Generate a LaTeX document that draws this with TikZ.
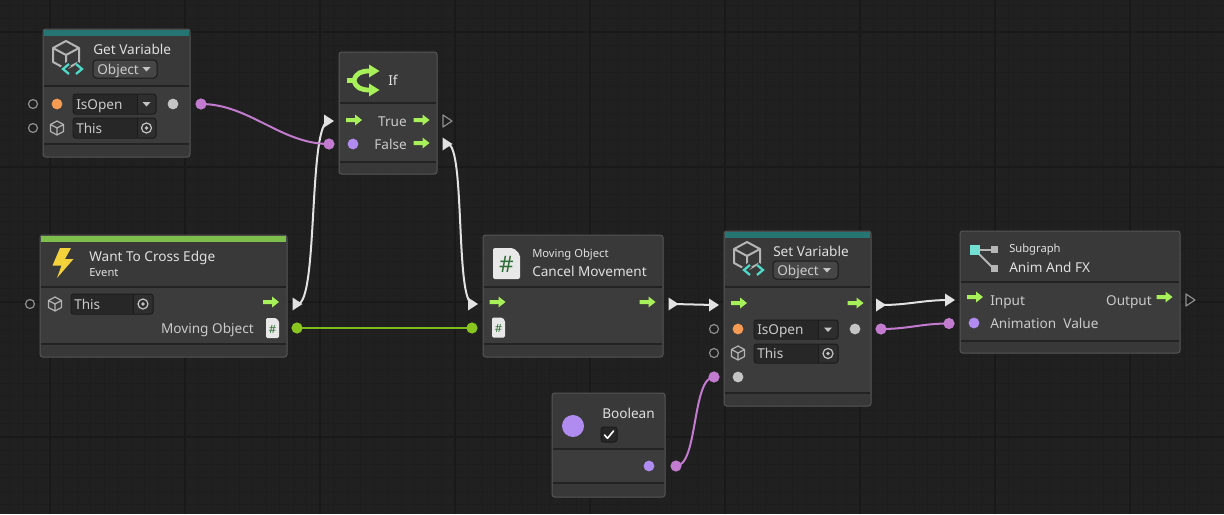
\documentclass[tikz,border=0pt]{standalone}
\usepackage{fontspec}
\setmainfont{Noto Sans}
\usetikzlibrary{calc}
\definecolor{bg}{HTML}{202020}
\definecolor{gridmaj}{HTML}{191919}
\definecolor{gridmin}{HTML}{1D1D1D}
\definecolor{hdr}{HTML}{393939}
\definecolor{bodyc}{HTML}{3C3C3C}
\definecolor{footc}{HTML}{383838}
\definecolor{divc}{HTML}{232323}
\definecolor{bord}{HTML}{565656}
\definecolor{tealc}{HTML}{277572}
\definecolor{evgreen}{HTML}{7DBE4C}
\definecolor{flow}{HTML}{A8F05A}
\definecolor{txt}{HTML}{CACACA}
\definecolor{ttlc}{HTML}{E0E0E0}
\definecolor{purp}{HTML}{C27BCF}
\definecolor{lav}{HTML}{B08CF0}
\definecolor{orng}{HTML}{F59A52}
\definecolor{greyd}{HTML}{C4C4C4}
\definecolor{hollowc}{HTML}{8E8E8E}
\definecolor{fieldc}{HTML}{2E2E2E}
\definecolor{fieldl}{HTML}{272727}
\definecolor{fieldb}{HTML}{1B1B1B}
\definecolor{ddc}{HTML}{464646}
\definecolor{wire}{HTML}{E2E2E2}
\definecolor{gwire}{HTML}{7CBB18}
\definecolor{gdot}{HTML}{8AC41E}
\definecolor{cubec}{HTML}{B5B5B5}
\definecolor{cyanc}{HTML}{4FD8C8}
\definecolor{boltc}{HTML}{F4D23C}
\definecolor{paper}{HTML}{E8E8E8}
\definecolor{hashc}{HTML}{2E6E36}
\newcommand\ubox[7]{%
  \path[draw=bord, fill=footc, line width=0.75pt, rounded corners=2pt] (#2,#3) rectangle (#4,#5);
  \fill[hdr] (#2+0.6,#3+0.6) rectangle (#4-0.6,#6);
  \fill[bodyc] (#2+0.6,#6) rectangle (#4-0.6,#7);
  \draw[divc, line width=1.5pt] (#2+0.6,#6) -- (#4-0.6,#6);
  \draw[divc, line width=1.5pt] (#2+0.6,#7) -- (#4-0.6,#7);
  \node[inner sep=0pt] (#1) at ({(#2+#4)/2},{(#3+#5)/2}) {};
}
% field: name, x1, y1, x2, y2, divider x
\newcommand\ufield[6]{%
  \path[draw=fieldb, fill=fieldc, line width=0.75pt, rounded corners=2pt] (#2,#3) rectangle (#4,#5);
  \fill[fieldl] (#2+0.6,#3+0.6) rectangle (#6,#5-0.6);
  \draw[fieldb, line width=0.75pt] (#6,#3) -- (#6,#5);
  \node[inner sep=0pt] (#1) at ({(#2+#4)/2},{(#3+#5)/2}) {};
}
\newcommand\udrop[5]{%
  \path[draw=fieldb, fill=ddc, line width=0.75pt, rounded corners=2.5pt] (#2,#3) rectangle (#4,#5);
  \node[inner sep=0pt] (#1) at ({(#2+#4)/2},{(#3+#5)/2}) {};
}
\begin{document}
\begin{tikzpicture}[x=0.75pt,y=-0.75pt,
  lbl/.style={text=txt, font=\fontsize{10.2}{12}\selectfont, inner sep=0pt, anchor=base west},
  lblr/.style={lbl, anchor=base east},
  ttl/.style={lbl, text=ttlc},
  sml/.style={lbl, text=ttlc, font=\fontsize{8.4}{10}\selectfont},
  wirew/.style={draw=wire, line width=1.5pt},
  wirep/.style={draw=purp, line width=1.5pt},
  wireg/.style={draw=gwire, line width=1.9pt},
  holc/.pic={\draw[hollowc, line width=0.9pt] (0,0) circle (4.5);},
  pdot/.pic={\fill[purp] (0,0) circle (5.6);},
  ldot/.pic={\fill[lav] (0,0) circle (5.4);},
  odot/.pic={\fill[orng] (0,0) circle (5.4);},
  gydot/.pic={\fill[greyd] (0,0) circle (5.4);},
  grdot/.pic={\fill[gdot] (0,0) circle (5.6);},
  tri/.pic={\fill[wire] (-5,-6.5) -- (5,0) -- (-5,6.5) -- cycle;},
  htri/.pic={\draw[hollowc, line width=0.9pt, line join=round] (-4.5,-6) -- (4.5,0) -- (-4.5,6) -- cycle;},
  farrow/.pic={\fill[flow] (-8,-2) -- (1,-2) -- (1,-5.5) -- (8,0) -- (1,5.5) -- (1,2) -- (-8,2) -- cycle;},
  ddtri/.pic={\fill[greyd] (-4,-2) -- (4,-2) -- (0,2.5) -- cycle;},
  target/.pic={\draw[greyd, line width=0.9pt] (0,0) circle (5); \fill[greyd] (0,0) circle (1.8);},
  scube/.pic={\draw[cubec, line width=0.9pt, line join=round] (0,-7) -- (6.5,-3.5) -- (6.5,3.5) -- (0,7) -- (-6.5,3.5) -- (-6.5,-3.5) -- cycle (-6.5,-3.5) -- (0,0) -- (6.5,-3.5) (0,0) -- (0,7);},
  varicon/.pic={
    \draw[cubec, line width=1.5pt, line join=round] (0,-14) -- (13,-7) -- (13,7) -- (0,14) -- (-13,7) -- (-13,-7) -- cycle (-13,-7) -- (0,0) -- (13,-7) (0,0) -- (0,14);
    \draw[hdr, line width=4.5pt, line join=round] (3,9) -- (-3,14) -- (3,19) (10,9) -- (16,14) -- (10,19);
    \draw[cyanc, line width=1.7pt] (3,9) -- (-3,14) -- (3,19) (10,9) -- (16,14) -- (10,19);
  },
  docicon/.pic={
    \fill[paper, rounded corners=1.5pt] (-13.5,-15.5) -- (7,-15.5) -- (13.5,-9) -- (13.5,15.5) -- (-13.5,15.5) -- cycle;
    \node[inner sep=0pt, text=hashc, font=\fontsize{17}{17}\bfseries\selectfont] at (0,1) {\#};
  },
  sdocicon/.pic={
    \fill[paper, rounded corners=1pt] (-6.5,-10) -- (3.5,-10) -- (6.5,-7) -- (6.5,10) -- (-6.5,10) -- cycle;
    \node[inner sep=0pt, text=hashc, font=\fontsize{8.5}{9}\bfseries\selectfont] at (0,1) {\#};
  }
]
\useasboundingbox (0,0) rectangle (1224,514);
\fill[bg] (0,0) rectangle (1224,514);
% grid
\foreach \i in {0,...,90} {\draw[gridmin, line width=0.5pt] ({9.5+13.5*\i},0) -- ({9.5+13.5*\i},514);}
\foreach \j in {0,...,37} {\draw[gridmin, line width=0.5pt] (0,{5+13.5*\j}) -- (1224,{5+13.5*\j});}
\foreach \i in {0,...,8} {\draw[gridmaj, line width=1pt] ({50+135*\i},0) -- ({50+135*\i},514);}
\foreach \j in {0,...,3} {\draw[gridmaj, line width=1pt] (0,{32+135*\j}) -- (1224,{32+135*\j});}

% ---------- Get Variable ----------
\ubox{gv}{43}{29}{190}{157}{86}{144}
\fill[tealc] (43.6,29.6) rectangle (189.4,36);
\pic at (66,55) {varicon};
\node[ttl] (gvT) at (93,54) {Get Variable};
\udrop{gvD}{93}{60}{157}{78}
\node[lbl] (gvDT) at (97,74) {Object};
\pic at (146.5,69) {ddtri};
\ufield{gvF1}{73}{94}{156}{114}{137}
\node[lbl] (gvF1T) at (76,109) {IsOpen};
\pic at (146.5,104) {ddtri};
\ufield{gvF2}{73}{118}{156}{138}{137}
\node[lbl] (gvF2T) at (76,133) {This};
\pic at (146.5,128) {target};
\pic at (57,104) {odot};
\pic at (57,128) {scube};
\pic at (173,104) {gydot};

% ---------- If ----------
\ubox{if}{339}{52}{437}{174}{103}{162}
\draw[flow, line width=3.6pt] (347,80.5) -- (355,80.5);
\draw[flow, line width=3.6pt] (354,80.5) .. controls (356,73) and (361,71) .. (370,71);
\draw[flow, line width=3.6pt] (354,80.5) .. controls (356,88) and (361,90) .. (370,90);
\fill[flow] (369,64.5) -- (379.5,71) -- (369,77.5) -- cycle;
\fill[flow] (369,83.5) -- (379.5,90) -- (369,96.5) -- cycle;
\node[ttl] (ifT) at (388,85) {If};
\pic at (354,120) {farrow};
\pic at (421.5,120) {farrow};
\pic at (421.5,143) {farrow};
\node[lblr] (ifTrue) at (407,126) {True};
\node[lblr] (ifFalse) at (407,149) {False};
\pic at (353,144) {ldot};

% ---------- Want To Cross Edge ----------
\ubox{we}{40}{235}{287}{357}{287}{344}
\fill[evgreen] (40.6,235.6) rectangle (286.4,242);
\fill[boltc] (60,248) -- (71,248) -- (65,259) -- (73.5,259) -- (57,278) -- (61.5,265.5) -- (52.5,265.5) -- cycle;
\node[ttl] (weT) at (89,261) {Want To Cross Edge};
\node[sml] (weS) at (89,276) {Event};
\ufield{weF}{71}{294}{153}{314}{133}
\node[lbl] (weFT) at (74,309) {This};
\pic at (143,304) {target};
\pic at (55,304) {scube};
\pic at (271,302) {farrow};
\node[lblr] (weMOT) at (254,333) {Moving Object};
\pic at (272.5,328) {sdocicon};

% ---------- Cancel Movement ----------
\ubox{cm}{483}{235}{663}{357}{287}{344}
\pic at (506.5,263.5) {docicon};
\node[sml] (cmS) at (532,257) {Moving Object};
\node[ttl] (cmT) at (532,276) {Cancel Movement};
\pic at (497.5,302) {farrow};
\pic at (647.5,302) {farrow};
\pic at (498.5,327.5) {sdocicon};

% ---------- Set Variable ----------
\ubox{sv}{724}{231}{871}{406}{287}{393}
\fill[tealc] (724.6,231.6) rectangle (870.4,238);
\pic at (747,256) {varicon};
\node[ttl] (svT) at (773,256) {Set Variable};
\udrop{svD}{773}{261}{838}{279}
\node[lbl] (svDT) at (777,275) {Object};
\pic at (827,270) {ddtri};
\pic at (739,303) {farrow};
\pic at (855.5,303) {farrow};
\ufield{svF1}{754}{320}{838}{339}{818}
\node[lbl] (svF1T) at (757,334) {IsOpen};
\pic at (828,329.5) {ddtri};
\ufield{svF2}{754}{344}{838}{363}{818}
\node[lbl] (svF2T) at (757,358) {This};
\pic at (828,353.5) {target};
\pic at (738,329) {odot};
\pic at (738,353) {scube};
\pic at (738,377) {gydot};
\pic at (855,329) {gydot};

% ---------- Boolean ----------
\ubox{bo}{552}{393}{665}{497}{449}{483}
\fill[lav] (573,426) circle (11);
\node[ttl] (boT) at (602,418) {Boolean};
\path[draw=fieldb, fill=fieldl, line width=0.75pt, rounded corners=2pt] (601,427) rectangle (617,442);
\node[inner sep=0pt] (boC) at (609,434.5) {};
\draw[white, line width=1.2pt, line cap=round, line join=round] (604.5,435) -- (607.5,438.3) -- (613.5,431);
\pic at (649,466) {ldot};

% ---------- Subgraph ----------
\ubox{sg}{960}{231}{1180}{353}{282}{341}
\draw[cubec, line width=1.5pt] (979,249.5) -- (992,249.5);
\draw[cubec, line width=1.5pt] (977,252) -- (993,268);
\fill[cyanc!80!white] (970,245) rectangle (979.5,254.5);
\fill[cubec] (991,246) rectangle (997.5,252.5);
\fill[cubec] (991,265) rectangle (997.5,271.5);
\node[sml] (sgS) at (1009,252) {Subgraph};
\node[ttl] (sgT) at (1009,272) {Anim And FX};
\pic at (975,297) {farrow};
\pic at (1164.5,297) {farrow};
\node[lbl] (sgInT) at (990,305) {Input};
\node[lblr] (sgOutT) at (1152,305) {Output};
\node[lbl] (sgVT) at (990,328) {Animation\ \ Value};
\pic at (974,323) {ldot};

% ---------- ports ----------
\coordinate (gvIn1) at (33,104);
\coordinate (gvIn2) at (33,128);
\coordinate (gvOut) at (201,104);
\coordinate (ifIn) at (329,121);
\coordinate (ifFIn) at (329,144);
\coordinate (ifTOut) at (447.5,121);
\coordinate (ifFOut) at (447.5,144);
\coordinate (weIn) at (30,304);
\coordinate (weOut) at (297.5,304);
\coordinate (weMO) at (297,328);
\coordinate (cmIn) at (473,304);
\coordinate (cmMO) at (472,328);
\coordinate (cmOut) at (673.5,304);
\coordinate (svIn) at (714,305);
\coordinate (svIn1) at (714,329);
\coordinate (svIn2) at (714,353);
\coordinate (svIn3) at (714,377);
\coordinate (svOut) at (881,305);
\coordinate (svOutV) at (881,329);
\coordinate (boolOut) at (676,466);
\coordinate (sgIn) at (950,300);
\coordinate (sgInV) at (949,323.5);
\coordinate (sgOut) at (1190.5,300);

% ---------- connectors ----------
\draw[wirew] (weOut) .. controls +(21,0) and +(-21,0) .. (ifIn);
\draw[wirew] (ifFOut) .. controls +(18,0) and +(-18,0) .. (cmIn);
\draw[wirew] (cmOut) .. controls +(20,0) and +(-20,0) .. (svIn);
\draw[wirew] (svOut) .. controls +(28,0) and +(-28,0) .. (sgIn);
\draw[wirep] (gvOut) .. controls +(48,0) and +(-48,0) .. (ifFIn);
\draw[wirep] (svOutV) .. controls +(28,0) and +(-28,0) .. (sgInV);
\draw[wirep] (boolOut) .. controls +(22,0) and +(-22,0) .. (svIn3);
\draw[wireg] (weMO) -- (cmMO);

% port shapes
\pic at (gvIn1) {holc};
\pic at (gvIn2) {holc};
\pic at (gvOut) {pdot};
\pic at (ifIn) {tri};
\pic at (ifFIn) {pdot};
\pic at (ifTOut) {htri};
\pic at (ifFOut) {tri};
\pic at (weIn) {holc};
\pic at (weOut) {tri};
\pic at (weMO) {grdot};
\pic at (cmIn) {tri};
\pic at (cmMO) {grdot};
\pic at (cmOut) {tri};
\pic at (svIn) {tri};
\pic at (svIn1) {holc};
\pic at (svIn2) {holc};
\pic at (svIn3) {pdot};
\pic at (svOut) {tri};
\pic at (svOutV) {pdot};
\pic at (boolOut) {pdot};
\pic at (sgIn) {tri};
\pic at (sgInV) {pdot};
\pic at (sgOut) {htri};
\end{tikzpicture}
\end{document}
